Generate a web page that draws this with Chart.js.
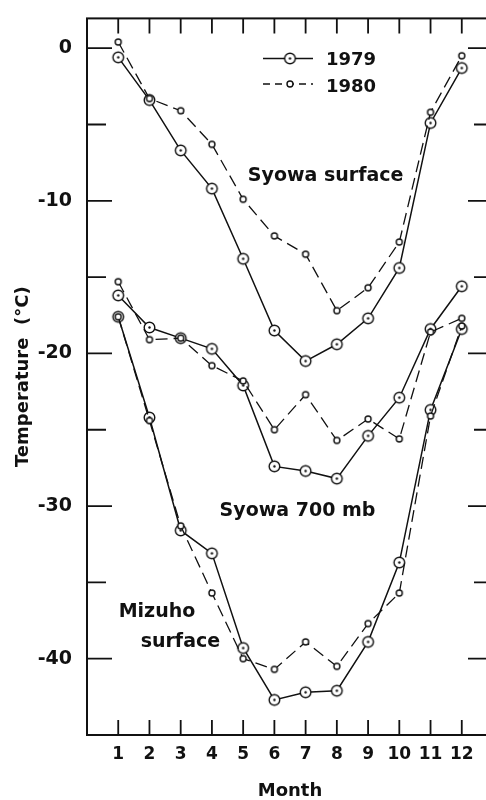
<!DOCTYPE html>
<html>
<head>
<meta charset="utf-8">
<script src="https://cdn.jsdelivr.net/npm/chart.js@4.4.1/dist/chart.umd.min.js"></script>
<style>
  html, body { margin: 0; padding: 0; background: #fff; overflow: hidden; }
  canvas { display: block; }
</style>
</head>
<body>
<canvas id="chart" width="500" height="800"></canvas>
<script>
// monthly mean temperatures (deg C)
const months = [1, 2, 3, 4, 5, 6, 7, 8, 9, 10, 11, 12];
const syowaSfc1979 = [-0.6, -3.4, -6.7, -9.2, -13.8, -18.5, -20.5, -19.4, -17.7, -14.4, -4.9, -1.3];
const syowaSfc1980 = [0.4, -3.3, -4.1, -6.3, -9.9, -12.3, -13.5, -17.2, -15.7, -12.7, -4.2, -0.5];
const syowa700_1979 = [-16.2, -18.3, -19.0, -19.7, -22.1, -27.4, -27.7, -28.2, -25.4, -22.9, -18.4, -15.6];
const syowa700_1980 = [-15.3, -19.1, -19.0, -20.8, -21.8, -25.0, -22.7, -25.7, -24.3, -25.6, -18.6, -17.7];
const mizuho1979 = [-17.6, -24.2, -31.6, -33.1, -39.3, -42.7, -42.2, -42.1, -38.9, -33.7, -23.7, -18.4];
const mizuho1980 = [-17.6, -24.4, -31.3, -35.7, -40.0, -40.7, -38.9, -40.5, -37.7, -35.7, -24.1, -18.2];
const yTicks = [0, -5, -10, -15, -20, -25, -30, -35, -40];

const INK = '#111';
const FONT = '"DejaVu Sans", sans-serif';
const DASH = [12, 6];

function ring(r, dot) {
  const s = Math.ceil(r * 2 + 4);
  const c = document.createElement('canvas');
  c.width = s; c.height = s;
  const g = c.getContext('2d');
  g.fillStyle = '#fff'; g.strokeStyle = INK; g.lineWidth = 1.4;
  g.beginPath(); g.arc(s / 2, s / 2, r, 0, Math.PI * 2); g.fill(); g.stroke();
  if (dot) { g.fillStyle = INK; g.beginPath(); g.arc(s / 2, s / 2, 1.2, 0, Math.PI * 2); g.fill(); }
  return c;
}
const bigRing = ring(5.3, true);
const smallRing = ring(3, false);

const pts = arr => arr.map((v, i) => ({ x: months[i], y: v }));
const ds79 = arr => ({ data: pts(arr), borderColor: INK, borderWidth: 1.5, pointStyle: bigRing, pointRadius: 5, tension: 0 });
const ds80 = arr => ({ data: pts(arr), borderColor: INK, borderWidth: 1.3, borderDash: DASH, pointStyle: smallRing, pointRadius: 3, tension: 0 });

// frame, inward ticks, legend and curve labels
const decor = {
  id: 'decor',
  afterDraw(chart) {
    const { ctx, chartArea: a, scales: { x, y } } = chart;
    ctx.save();
    ctx.strokeStyle = INK;
    ctx.lineWidth = 2;
    ctx.strokeRect(a.left, a.top, a.right - a.left, a.bottom - a.top);
    ctx.lineWidth = 1.8;
    ctx.beginPath();
    months.forEach(m => {
      const px = x.getPixelForValue(m);
      ctx.moveTo(px, a.top); ctx.lineTo(px, a.top + 15);
      ctx.moveTo(px, a.bottom); ctx.lineTo(px, a.bottom - 15);
    });
    yTicks.forEach(v => {
      const py = y.getPixelForValue(v);
      const len = v % 10 === 0 ? 25 : 19;
      ctx.moveTo(a.left, py); ctx.lineTo(a.left + len, py);
      ctx.moveTo(a.right, py); ctx.lineTo(a.right - len, py);
    });
    ctx.stroke();

    // legend
    ctx.lineWidth = 1.5;
    ctx.beginPath(); ctx.moveTo(263, 58.5); ctx.lineTo(313, 58.5); ctx.stroke();
    ctx.drawImage(bigRing, 290 - bigRing.width / 2, 58.5 - bigRing.height / 2);
    ctx.lineWidth = 1.3;
    ctx.setLineDash([7, 5]);
    ctx.beginPath(); ctx.moveTo(263, 84); ctx.lineTo(313, 84); ctx.stroke();
    ctx.setLineDash([]);
    ctx.drawImage(smallRing, 290 - smallRing.width / 2, 84 - smallRing.height / 2);
    ctx.fillStyle = INK;
    ctx.font = 'bold 18px ' + FONT;
    ctx.textAlign = 'left';
    ctx.textBaseline = 'alphabetic';
    ctx.fillText('1979', 326, 65);
    ctx.fillText('1980', 326, 91.5);

    // curve labels
    ctx.font = 'bold 19px ' + FONT;
    ctx.textAlign = 'center';
    ctx.fillText('Syowa surface', x.getPixelForValue(7.64), y.getPixelForValue(-8.71));
    ctx.fillText('Syowa 700 mb', x.getPixelForValue(6.74), y.getPixelForValue(-30.68));
    ctx.fillText('Mizuho', x.getPixelForValue(2.24), y.getPixelForValue(-37.25));
    ctx.fillText('surface', x.getPixelForValue(2.99), y.getPixelForValue(-39.24));
    ctx.restore();
  }
};

new Chart(document.getElementById('chart'), {
  type: 'line',
  data: {
    datasets: [
      ds80(syowaSfc1980), ds79(syowaSfc1979),
      ds80(syowa700_1980), ds79(syowa700_1979),
      ds80(mizuho1980), ds79(mizuho1979),
    ]
  },
  options: {
    responsive: false,
    animation: false,
    layout: { padding: { top: 14, right: 7, left: 0, bottom: 0 } },
    plugins: { legend: { display: false }, tooltip: { enabled: false } },
    scales: {
      x: {
        type: 'linear', min: 0, max: 13,
        grid: { display: false }, border: { display: false },
        afterBuildTicks: s => { s.ticks = months.map(v => ({ value: v })); },
        afterFit: s => { s.height = 65; },
        ticks: { color: INK, font: { family: FONT, size: 17, weight: 'bold' }, padding: 1, maxRotation: 0, autoSkip: false },
        title: { display: true, text: 'Month', color: INK, font: { family: FONT, size: 18, weight: 'bold', lineHeight: 1 }, padding: 0 }
      },
      y: {
        min: -45, max: 1.95,
        grid: { display: false }, border: { display: false },
        afterBuildTicks: s => { s.ticks = yTicks.map(v => ({ value: v })); },
        afterFit: s => { s.width = 87; },
        ticks: { color: INK, font: { family: FONT, size: 19, weight: 'bold' }, padding: 7, callback: v => v % 10 === 0 ? String(v) : '' },
        title: { display: true, text: 'Temperature  (°C)', color: INK, font: { family: FONT, size: 18, weight: 'bold', lineHeight: 1 }, padding: { top: 14 } }
      }
    }
  },
  plugins: [decor]
});
</script>
</body>
</html>
